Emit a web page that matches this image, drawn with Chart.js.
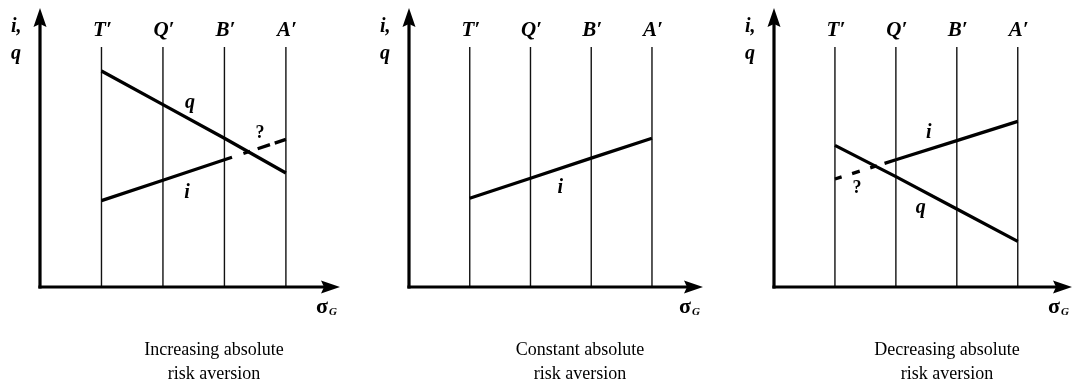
<!DOCTYPE html>
<html>
<head>
<meta charset="utf-8">
<script src="https://cdn.jsdelivr.net/npm/chart.js@4.4.1/dist/chart.umd.min.js"></script>
<style>
  html, body { margin: 0; padding: 0; background: #fff; }
  #wrap { position: relative; width: 1074px; height: 388px; overflow: hidden; }
  .panel { position: absolute; top: 0; width: 358px; height: 388px; }
</style>
</head>
<body>
<div id="wrap">
  <div class="panel" style="left:0px"><canvas id="c0" width="358" height="388"></canvas></div>
  <div class="panel" style="left:358px"><canvas id="c1" width="358" height="388"></canvas></div>
  <div class="panel" style="left:716px"><canvas id="c2" width="358" height="388"></canvas></div>
</div>
<script>
// Portfolio positions along the sigma_G axis and their labels
const positions = [1, 2, 3, 4];
const tickLabels = ['T\u2032', 'Q\u2032', 'B\u2032', 'A\u2032'];

// Rates (i) and prices (q) at each position, per panel
const increasingQ = [9.0, 7.6, 6.2, 4.75];
const increasingI = [3.6, 4.45, 5.3, 6.15];
const constantI   = [3.7, 4.53, 5.37, 6.2];
const decreasingQ = [5.9, 4.6, 3.25, 1.9];
const decreasingI = [4.5, 5.3, 6.1, 6.9];

// Height reached by the vertical position guides
const guideTop = 10;
const yMax = 11.625;

const titles = [
  ['Increasing absolute', 'risk aversion'],
  ['Constant absolute', 'risk aversion'],
  ['Decreasing absolute', 'risk aversion']
];

const panels = [
  {
    canvas: 'c0', padLeft: 40, padRight: 18, xMax: 4.88, title: titles[0],
    lines: [
      { values: increasingQ, name: 'q', at: [2.44, 7.67] },
      { values: increasingI, name: 'i', at: [2.39, 3.92], dashSeg: 2, dash: [8, 12, 7, 8, 13, 5, 14] }
    ],
    question: [3.58, 6.42]
  },
  {
    canvas: 'c1', padLeft: 51, padRight: 13, xMax: 4.84, title: titles[1],
    lines: [
      { values: constantI, name: 'i', at: [2.49, 4.13] }
    ]
  },
  {
    canvas: 'c2', padLeft: 58, padRight: 2, xMax: 4.89, title: titles[2],
    lines: [
      { values: decreasingI, name: 'i', at: [2.54, 6.42], dashSeg: 0, dash: [7, 11, 8, 11, 7, 8, 60] },
      { values: decreasingQ, name: 'q', at: [2.41, 3.29] }
    ],
    question: [1.36, 4.13]
  }
];

const SERIF = '"Liberation Serif", "DejaVu Serif", serif';
const LABEL_FONT = 'italic bold 20px ' + SERIF;

// Draws the arrowed axes and all text of a panel
const annotate = {
  id: 'annotate',
  afterDatasetsDraw(chart, args, opts) {
    const p = opts.panel;
    const { ctx, chartArea } = chart;
    const xs = chart.scales.x, ys = chart.scales.y;
    const x0 = xs.getPixelForValue(0);
    const y0 = ys.getPixelForValue(0);
    const xTip = chartArea.right;
    const yTip = chartArea.top;

    ctx.save();
    ctx.fillStyle = '#000';
    ctx.strokeStyle = '#000';
    ctx.lineWidth = 3.2;
    ctx.lineCap = 'butt';

    // axes
    ctx.beginPath();
    ctx.moveTo(x0, y0 + 1.6);
    ctx.lineTo(x0, yTip + 14);
    ctx.stroke();
    ctx.beginPath();
    ctx.moveTo(x0 - 1.6, y0);
    ctx.lineTo(xTip - 14, y0);
    ctx.stroke();

    // arrowheads
    ctx.beginPath();
    ctx.moveTo(x0, yTip);
    ctx.lineTo(x0 - 6.5, yTip + 19);
    ctx.lineTo(x0, yTip + 16);
    ctx.lineTo(x0 + 6.5, yTip + 19);
    ctx.closePath();
    ctx.fill();
    ctx.beginPath();
    ctx.moveTo(xTip, y0);
    ctx.lineTo(xTip - 19, y0 - 6.5);
    ctx.lineTo(xTip - 16, y0);
    ctx.lineTo(xTip - 19, y0 + 6.5);
    ctx.closePath();
    ctx.fill();

    // position labels above the guides
    ctx.font = 'italic bold 21px ' + SERIF;
    ctx.textAlign = 'center';
    ctx.textBaseline = 'alphabetic';
    positions.forEach((pos, k) => {
      ctx.fillText(tickLabels[k], xs.getPixelForValue(pos) + 1, ys.getPixelForValue(10.45));
    });

    // y-axis label
    ctx.font = LABEL_FONT;
    ctx.textAlign = 'left';
    ctx.fillText('i,', x0 - 29, yTip + 24);
    ctx.fillText('q', x0 - 29, yTip + 51);

    // x-axis label
    ctx.font = 'bold 22px ' + SERIF;
    ctx.fillText('\u03c3', xTip - 24, y0 + 26);
    const sw = ctx.measureText('\u03c3').width;
    ctx.font = 'italic bold 11px ' + SERIF;
    ctx.fillText('G', xTip - 24 + sw + 1, y0 + 28);

    // curve labels
    ctx.font = LABEL_FONT;
    ctx.textAlign = 'center';
    ctx.textBaseline = 'middle';
    p.lines.forEach(l => {
      ctx.fillText(l.name, xs.getPixelForValue(l.at[0]), ys.getPixelForValue(l.at[1]));
    });
    if (p.question) {
      ctx.font = 'bold 18px ' + SERIF;
      ctx.fillText('?', xs.getPixelForValue(p.question[0]), ys.getPixelForValue(p.question[1]));
    }

    // caption
    ctx.font = '18px ' + SERIF;
    ctx.textBaseline = 'alphabetic';
    const cx = (x0 + xTip) / 2 + 24;
    ctx.fillText(p.title[0], cx, y0 + 68);
    ctx.fillText(p.title[1], cx, y0 + 92);
    ctx.restore();
  }
};

panels.forEach(p => {
  const datasets = [];
  p.lines.forEach(l => {
    datasets.push({
      data: positions.map((pos, k) => ({ x: pos, y: l.values[k] })),
      borderColor: '#000',
      borderWidth: 3.3,
      pointRadius: 0,
      segment: {
        borderDash: ctx => (l.dashSeg !== undefined && ctx.p0DataIndex === l.dashSeg) ? l.dash : undefined
      }
    });
  });
  positions.forEach(pos => {
    datasets.push({
      data: [{ x: pos, y: 0 }, { x: pos, y: guideTop }],
      borderColor: '#111',
      borderWidth: 1.4,
      pointRadius: 0
    });
  });

  new Chart(document.getElementById(p.canvas), {
    type: 'line',
    data: { datasets },
    options: {
      responsive: false,
      animation: false,
      events: [],
      layout: { padding: { left: p.padLeft, right: p.padRight, top: 8, bottom: 101 } },
      scales: {
        x: { type: 'linear', min: 0, max: p.xMax, display: false },
        y: { type: 'linear', min: 0, max: yMax, display: false }
      },
      elements: { line: { tension: 0 }, point: { radius: 0 } },
      plugins: {
        legend: { display: false },
        tooltip: { enabled: false },
        annotate: { panel: p }
      }
    },
    plugins: [annotate]
  });
});
</script>
</body>
</html>
